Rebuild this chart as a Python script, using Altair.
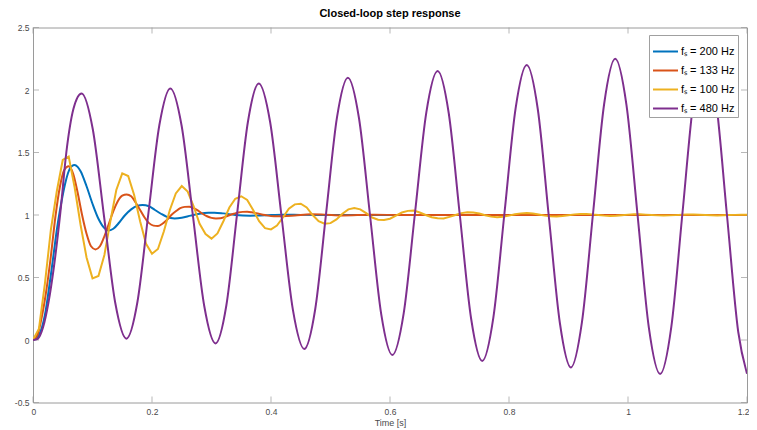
import altair as alt
import pandas as pd

# ---------------- data ----------------
labels = ["fₛ = 200 Hz", "fₛ = 133 Hz", "fₛ = 100 Hz", "fₛ = 480 Hz"]
colors = ["#0072BD", "#D95319", "#EDB120", "#7E2F8E"]

x_ticks = [0, 0.2, 0.4, 0.6, 0.8, 1, 1.2]
y_ticks = [-0.5, 0, 0.5, 1, 1.5, 2, 2.5]

blue_t = [0, 0.005, 0.01, 0.015, 0.02, 0.025, 0.03, 0.035, 0.04, 0.045, 0.05, 0.055,
          0.06, 0.065, 0.07, 0.075, 0.08, 0.09, 0.10, 0.11, 0.12, 0.126, 0.135, 0.145,
          0.155, 0.165, 0.175, 0.184, 0.195, 0.205, 0.215, 0.225, 0.238, 0.25, 0.265,
          0.28, 0.295, 0.305, 0.32, 0.34, 0.365, 0.39, 0.42, 0.45, 0.5, 1.2]
blue_v = [0, 0.01, 0.04, 0.1, 0.2, 0.35, 0.52, 0.7, 0.88, 1.03, 1.16, 1.27,
          1.35, 1.39, 1.40, 1.385, 1.35, 1.23, 1.09, 0.97, 0.895, 0.876, 0.89, 0.94,
          1.0, 1.045, 1.073, 1.08, 1.07, 1.04, 1.01, 0.985, 0.973, 0.978, 0.995,
          1.01, 1.018, 1.019, 1.013, 1.0, 0.995, 0.998, 1.002, 1.001, 1.0, 1.0]

red_t = [0, 0.0075, 0.015, 0.0225, 0.03, 0.0375, 0.045, 0.0525, 0.06, 0.0675, 0.075,
         0.0825, 0.09, 0.0975, 0.105, 0.1125, 0.12, 0.1275, 0.135, 0.1425, 0.15, 0.1575,
         0.165, 0.1725, 0.18, 0.1875, 0.195, 0.2025, 0.21, 0.2175, 0.225, 0.2325, 0.24,
         0.2475, 0.255, 0.2625, 0.27, 0.2775, 0.285, 0.2925, 0.30, 0.3075, 0.315, 0.3225,
         0.33, 0.3375, 0.345, 0.3525, 0.36, 0.3675, 0.375, 0.39, 0.405, 0.42, 0.44, 0.467,
         0.49, 0.52, 0.57, 0.62, 1.2]
red_v = [0, 0.04, 0.19, 0.4, 0.67, 0.98, 1.22, 1.36, 1.39, 1.33, 1.18,
         1.0, 0.85, 0.75, 0.725, 0.75, 0.83, 0.93, 1.03, 1.11, 1.155, 1.165,
         1.15, 1.1, 1.04, 0.98, 0.935, 0.915, 0.912, 0.93, 0.96, 1.0, 1.03,
         1.055, 1.065, 1.067, 1.055, 1.035, 1.01, 0.99, 0.977, 0.973, 0.974, 0.985,
         0.998, 1.01, 1.02, 1.025, 1.026, 1.022, 1.015, 1.0, 0.99, 0.99, 0.996, 1.006,
         1.003, 0.997, 1.002, 1.0, 1.0]

yellow_t = [0.00, 0.01, 0.02, 0.03, 0.04, 0.05, 0.06, 0.07, 0.08, 0.09,
            0.10, 0.11, 0.12, 0.13, 0.14, 0.15, 0.16, 0.17, 0.18, 0.19,
            0.20, 0.21, 0.22, 0.23, 0.24, 0.25, 0.26, 0.27, 0.28, 0.29,
            0.30, 0.31, 0.32, 0.33, 0.34, 0.35, 0.36, 0.37, 0.38, 0.39,
            0.40, 0.41, 0.42, 0.43, 0.44, 0.45, 0.46, 0.47, 0.48, 0.49,
            0.50, 0.51, 0.52, 0.53, 0.54, 0.55, 0.56, 0.57, 0.58, 0.59,
            0.60, 0.61, 0.62, 0.63, 0.64, 0.65, 0.66, 0.67, 0.68, 0.69,
            0.70, 0.71, 0.72, 0.73, 0.74, 0.75, 0.76, 0.77, 0.78, 0.79,
            0.80, 0.81, 0.82, 0.83, 0.84, 0.85, 0.86, 0.87, 0.88, 0.89,
            0.90, 0.91, 0.92, 0.93, 0.94, 0.95, 0.96, 0.97, 0.98, 0.99,
            1.00, 1.01, 1.02, 1.03, 1.04, 1.05, 1.06, 1.07, 1.08, 1.09,
            1.10, 1.11, 1.12, 1.13, 1.14, 1.15, 1.16, 1.17, 1.18, 1.19,
            1.20]
yellow_v = [0.0, 0.09, 0.45, 0.88, 1.19, 1.44, 1.467, 1.22, 0.92, 0.66,
            0.493, 0.512, 0.68, 0.95, 1.2, 1.333, 1.312, 1.16, 0.95, 0.77,
            0.69, 0.728, 0.87, 1.04, 1.173, 1.232, 1.187, 1.07, 0.93, 0.848,
            0.811, 0.853, 0.95, 1.06, 1.13, 1.15, 1.12, 1.04, 0.95, 0.895,
            0.885, 0.915, 0.98, 1.05, 1.085, 1.09, 1.06, 1.0, 0.95, 0.93,
            0.935, 0.965, 1.01, 1.045, 1.055, 1.045, 1.015, 0.98, 0.962, 0.96,
            0.97, 0.995, 1.02, 1.033, 1.035, 1.02, 1.0, 0.982, 0.974, 0.973,
            0.985, 1.0, 1.015, 1.021, 1.02, 1.012, 0.998, 0.987, 0.983, 0.986,
            0.995, 1.006, 1.013, 1.015, 1.012, 1.004, 0.995, 0.99, 0.989, 0.992,
            0.998, 1.005, 1.009, 1.009, 1.005, 1.0, 0.995, 0.993, 0.994, 0.998,
            1.003, 1.006, 1.006, 1.003, 1.0, 0.997, 0.996, 0.997, 0.999, 1.002,
            1.004, 1.004, 1.002, 1.0, 0.998, 0.997, 0.998, 1.0, 1.001, 1.002,
            1.002]

purple_t = [0, 0.008, 0.0168, 0.026, 0.035, 0.046, 0.056, 0.068, 0.0816,
            0.1005, 0.1193, 0.1382, 0.157,
            0.1755, 0.1939, 0.2124, 0.2308,
            0.2498, 0.2688, 0.2878, 0.3068,
            0.325, 0.3431, 0.3613, 0.3794,
            0.3986, 0.4177, 0.4369, 0.456,
            0.4743, 0.4926, 0.5109, 0.5292,
            0.5479, 0.5666, 0.5853, 0.604,
            0.623, 0.642, 0.661, 0.680,
            0.6988, 0.7175, 0.7363, 0.755,
            0.7737, 0.7924, 0.8111, 0.8298,
            0.8484, 0.8669, 0.8855, 0.904,
            0.9226, 0.9413, 0.9599, 0.9785,
            0.9974, 1.0163, 1.0351, 1.054,
            1.0728, 1.0915, 1.1103, 1.129,
            1.1478, 1.1665, 1.1853, 1.2]
purple_v = [0, 0.01, 0.1, 0.3, 0.58, 1.02, 1.5, 1.85, 1.973,
            1.686, 0.992, 0.298, 0.011,
            0.304, 1.012, 1.72, 2.013,
            1.714, 0.993, 0.272, -0.027,
            0.278, 1.013, 1.748, 2.053,
            1.742, 0.99, 0.239, -0.072,
            0.246, 1.013, 1.781, 2.099,
            1.774, 0.99, 0.205, -0.12,
            0.213, 1.016, 1.819, 2.152,
            1.812, 0.992, 0.172, -0.168,
            0.179, 1.016, 1.853, 2.2,
            1.846, 0.99, 0.136, -0.219,
            0.143, 1.016, 1.888, 2.25,
            1.881, 0.989, 0.097, -0.272,
            0.105, 1.014, 1.923, 2.30,
            1.916, 0.99, 0.064, -0.27]

# ---------------- chart ----------------
X_DOM = [0, 1.2]
Y_DOM = [-0.5, 2.5]
AXIS_GREY = "#9a9a9a"
LABEL_GREY = "#4a4a4a"
FONT = "Liberation Sans"

def frame(ts, vs, name):
    return pd.DataFrame({"t": ts, "v": vs, "series": name})

xs = alt.Scale(domain=X_DOM, nice=False, zero=False)
ys = alt.Scale(domain=Y_DOM, nice=False, zero=False)

x_enc = alt.X("t:Q", scale=xs, axis=alt.Axis(
    values=x_ticks, title="Time [s]", labelExpr="'' + datum.value",
    ticks=False, tickSize=0, domain=False, grid=False,
    labelFlush=True, labelFlushOffset=2,
    labelFont=FONT, labelFontSize=8.5, labelColor=LABEL_GREY, labelPadding=4.5,
    titleFont=FONT, titleFontSize=9, titleFontWeight="normal", titleColor=LABEL_GREY,
    titlePadding=2.5))
y_enc = alt.Y("v:Q", scale=ys, axis=alt.Axis(
    values=y_ticks, title=None, labelExpr="'' + datum.value",
    ticks=False, tickSize=0, domain=False, grid=False, labelFlush=False,
    labelFont=FONT, labelFontSize=8.5, labelColor=LABEL_GREY, labelPadding=4))

color_enc = alt.Color("series:N", scale=alt.Scale(domain=labels, range=colors),
                      sort=labels,
                      legend=alt.Legend(
                          title=None, orient="none", legendX=616, legendY=7.5,
                          symbolType="stroke", symbolSize=625, symbolStrokeWidth=2,
                          labelFont=FONT, labelFontSize=11, labelColor="#000000",
                          fillColor="#ffffff", strokeColor="#a0a0a0", padding=3,
                          rowPadding=0, labelOffset=2, labelLimit=200))

def series_layer(ts, vs, name, interp, width):
    return alt.Chart(frame(ts, vs, name)).mark_line(
        interpolate=interp, strokeWidth=width, clip=True
    ).encode(x=x_enc, y=y_enc, color=color_enc)

blue = series_layer(blue_t, blue_v, labels[0], "monotone", 2)
red = series_layer(red_t, red_v, labels[1], "monotone", 2)
yellow = series_layer(yellow_t, yellow_v, labels[2], "linear", 2)
purple = series_layer(purple_t, purple_v, labels[3], "monotone", 2)

# inward tick marks (MATLAB box style)
bottom_df = pd.DataFrame({"t": x_ticks, "v": [Y_DOM[0]] * len(x_ticks)})
top_df = pd.DataFrame({"t": x_ticks, "v": [Y_DOM[1]] * len(x_ticks)})
left_df = pd.DataFrame({"t": [X_DOM[0]] * len(y_ticks), "v": y_ticks})
right_df = pd.DataFrame({"t": [X_DOM[1]] * len(y_ticks), "v": y_ticks})

tick_b = alt.Chart(bottom_df).mark_tick(orient="vertical", size=6, thickness=1,
                                        color=AXIS_GREY, yOffset=-3).encode(x=x_enc, y=y_enc)
tick_t = alt.Chart(top_df).mark_tick(orient="vertical", size=6, thickness=1,
                                     color=AXIS_GREY, yOffset=3).encode(x=x_enc, y=y_enc)
tick_l = alt.Chart(left_df).mark_tick(orient="horizontal", size=6, thickness=1,
                                      color=AXIS_GREY, xOffset=3).encode(x=x_enc, y=y_enc)
tick_r = alt.Chart(right_df).mark_tick(orient="horizontal", size=6, thickness=1,
                                       color=AXIS_GREY, xOffset=-3).encode(x=x_enc, y=y_enc)

chart = alt.layer(
    tick_b, tick_t, tick_l, tick_r, blue, red, yellow, purple
).properties(
    width=714, height=375,
    title=alt.TitleParams("Closed-loop step response", font=FONT, fontSize=11,
                          fontWeight="bold", color="#000000", offset=5, anchor="middle"),
    autosize=alt.AutoSizeParams(type="none"),
    padding={"left": 25, "top": 19.5, "right": 2, "bottom": 27},
    background="#ffffff",
).configure_view(
    stroke=AXIS_GREY, strokeWidth=1
)

chart.save("out.html", embed_options={"renderer": "svg", "actions": False})
